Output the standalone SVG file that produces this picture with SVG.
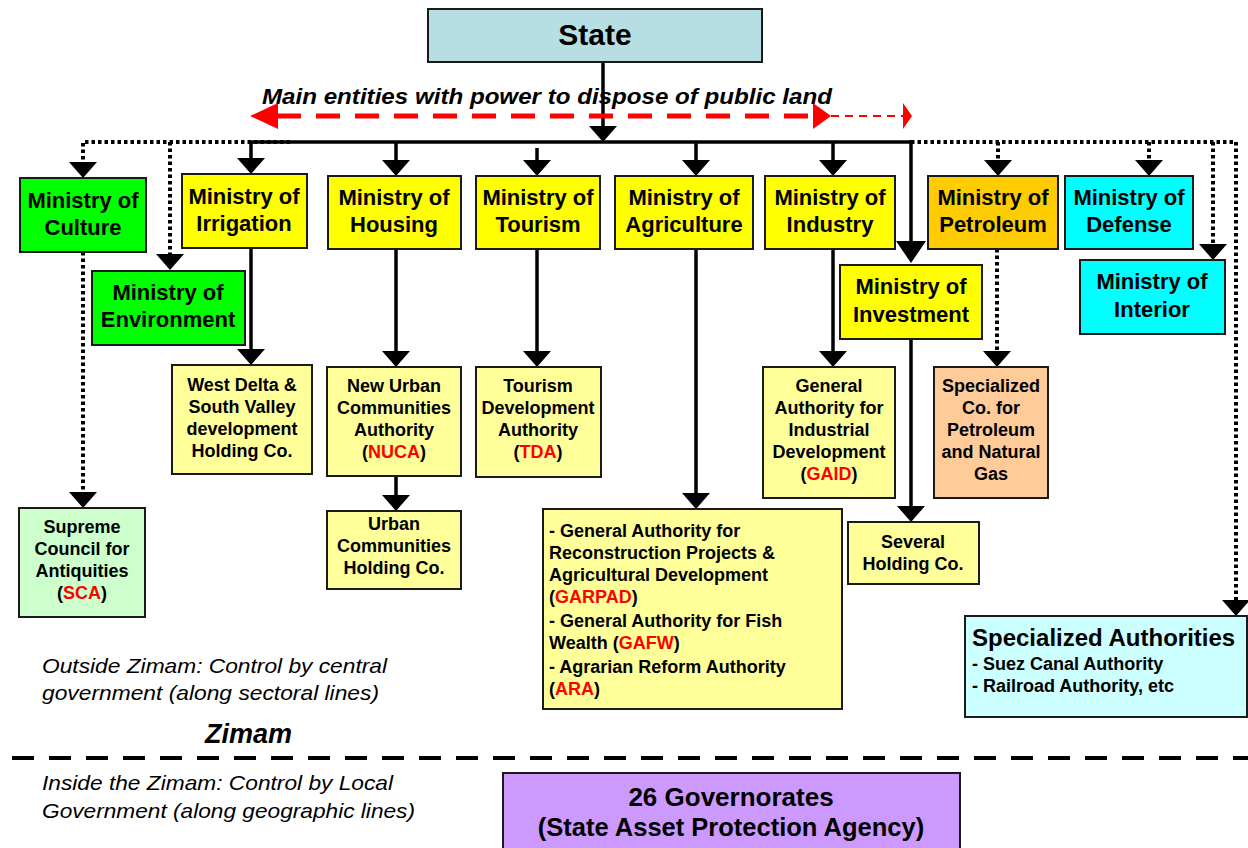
<svg xmlns="http://www.w3.org/2000/svg" width="1248" height="848" viewBox="0 0 1248 848">
<style>
text{font-family:"Liberation Sans",Arial,sans-serif;fill:#000}
.box{stroke:#1a1a1a;stroke-width:2}
.min{font-size:22px;font-weight:bold;text-anchor:middle}
.sub{font-size:18px;font-weight:bold;text-anchor:middle}
.lft{font-size:18px;font-weight:bold}
.red{fill:#ff0000}
.it{font-size:21px;font-style:italic}
.solid{fill:none;stroke:#000;stroke-width:3.5}
.dot{fill:none;stroke:#000;stroke-width:4;stroke-dasharray:3.5 3}
.yel{fill:#ffff00}.pyel{fill:#ffff99}.grn{fill:#00ff00}.lgrn{fill:#ccffcc}
.cyn{fill:#00ffff}.lcyn{fill:#ccffff}.org{fill:#ffcc00}.peach{fill:#ffcc99}
</style>
<defs>
<marker id="ah" markerUnits="userSpaceOnUse" markerWidth="16" markerHeight="28" viewBox="0 0 16 28" refX="10" refY="14" orient="auto"><path d="M0,0 L16,14 L0,28 Z" fill="#000"/></marker>
<marker id="ahb" markerUnits="userSpaceOnUse" markerWidth="22" markerHeight="30" viewBox="0 0 22 30" refX="14" refY="15" orient="auto"><path d="M0,0 L22,15 L0,30 Z" fill="#000"/></marker>
</defs>

<g id="connectors">
<path class="solid" d="M603,62 V136" marker-end="url(#ah)"/>
<path class="solid" d="M250,142 H911"/>
<path class="dot" d="M290,142 H83 V172" marker-end="url(#ah)"/>
<path class="dot" d="M170,142 V264" marker-end="url(#ah)"/>
<path class="dot" d="M911,142 H1236 V610" marker-end="url(#ah)"/>
<path class="dot" d="M998,142 V170" marker-end="url(#ah)"/>
<path class="dot" d="M1149,142 V170" marker-end="url(#ah)"/>
<path class="dot" d="M1213,142 V254" marker-end="url(#ah)"/>
<path class="dot" d="M83,252 V502" marker-end="url(#ah)"/>
<path class="dot" d="M997,249 V361" marker-end="url(#ah)"/>
<path class="solid" d="M251,142 V168" marker-end="url(#ah)"/>
<path class="solid" d="M396,142 V170" marker-end="url(#ah)"/>
<path class="solid" d="M537,148 V170" marker-end="url(#ah)"/>
<path class="solid" d="M696,142 V170" marker-end="url(#ah)"/>
<path class="solid" d="M833,142 V170" marker-end="url(#ah)"/>
<path class="solid" d="M911,140 V255" stroke-width="4.5" marker-end="url(#ahb)"/>
<path class="solid" d="M251,248 V359" marker-end="url(#ah)"/>
<path class="solid" d="M396,249 V361" marker-end="url(#ah)"/>
<path class="solid" d="M396,476 V505" marker-end="url(#ah)"/>
<path class="solid" d="M537,249 V361" marker-end="url(#ah)"/>
<path class="solid" d="M696,249 V503" marker-end="url(#ah)"/>
<path class="solid" d="M833,249 V361" marker-end="url(#ah)"/>
<path class="solid" d="M911,339 V516" marker-end="url(#ah)"/>
</g>

<g id="red-arrow">
<path d="M277,116 H813" fill="none" stroke="#ff0000" stroke-width="5" stroke-dasharray="24 15"/>
<polygon points="250,116 278,103 278,129" fill="#ff0000"/>
<polygon points="831,116 813,103 813,129" fill="#ff0000"/>
<path d="M831,116 H903" fill="none" stroke="#ff0000" stroke-width="2" stroke-dasharray="8 6"/>
<polygon points="912,116 903,103 903,129" fill="#ff0000"/>
<text x="262" y="104" font-size="22" font-weight="bold" font-style="italic" textLength="570" lengthAdjust="spacingAndGlyphs">Main entities with power to dispose of public land</text>
</g>

<g id="state">
<rect class="box" x="428" y="9" width="334" height="53" fill="#b7dfe3"/>
<text x="595" y="45" font-size="30" font-weight="bold" text-anchor="middle">State</text>
</g>

<g id="culture"><rect class="box grn" x="20" y="178" width="126" height="74"/>
<text class="min" x="83" y="208">Ministry of</text><text class="min" x="83" y="235">Culture</text></g>
<g id="environment"><rect class="box grn" x="92" y="271" width="153" height="74"/>
<text class="min" x="168" y="300">Ministry of</text><text class="min" x="168" y="327">Environment</text></g>
<g id="irrigation"><rect class="box yel" x="182" y="174" width="125" height="74"/>
<text class="min" x="244" y="204">Ministry of</text><text class="min" x="244" y="231">Irrigation</text></g>
<g id="housing"><rect class="box yel" x="328" y="176" width="133" height="73"/>
<text class="min" x="394" y="205">Ministry of</text><text class="min" x="394" y="232">Housing</text></g>
<g id="tourism"><rect class="box yel" x="476" y="176" width="124" height="73"/>
<text class="min" x="538" y="205">Ministry of</text><text class="min" x="538" y="232">Tourism</text></g>
<g id="agriculture"><rect class="box yel" x="615" y="176" width="138" height="73"/>
<text class="min" x="684" y="205">Ministry of</text><text class="min" x="684" y="232">Agriculture</text></g>
<g id="industry"><rect class="box yel" x="765" y="176" width="130" height="73"/>
<text class="min" x="830" y="205">Ministry of</text><text class="min" x="830" y="232">Industry</text></g>
<g id="petroleum"><rect class="box org" x="928" y="176" width="130" height="73"/>
<text class="min" x="993" y="205">Ministry of</text><text class="min" x="993" y="232">Petroleum</text></g>
<g id="defense"><rect class="box cyn" x="1065" y="176" width="128" height="73"/>
<text class="min" x="1129" y="205">Ministry of</text><text class="min" x="1129" y="232">Defense</text></g>
<g id="investment"><rect class="box yel" x="840" y="265" width="142" height="74"/>
<text class="min" x="911" y="294">Ministry of</text><text class="min" x="911" y="322">Investment</text></g>
<g id="interior"><rect class="box cyn" x="1080" y="260" width="145" height="74"/>
<text class="min" x="1152" y="289">Ministry of</text><text class="min" x="1152" y="317">Interior</text></g>

<g id="westdelta"><rect class="box pyel" x="172" y="365" width="140" height="109"/>
<text class="sub" x="242" y="391">West Delta &amp;</text><text class="sub" x="242" y="413">South Valley</text>
<text class="sub" x="242" y="435">development</text><text class="sub" x="242" y="457">Holding Co.</text></g>
<g id="nuca"><rect class="box pyel" x="327" y="367" width="134" height="109"/>
<text class="sub" x="394" y="392">New Urban</text><text class="sub" x="394" y="414">Communities</text>
<text class="sub" x="394" y="436">Authority</text><text class="sub" x="394" y="458">(<tspan class="red">NUCA</tspan>)</text></g>
<g id="tda"><rect class="box pyel" x="476" y="367" width="125" height="110"/>
<text class="sub" x="538" y="392">Tourism</text><text class="sub" x="538" y="414">Development</text>
<text class="sub" x="538" y="436">Authority</text><text class="sub" x="538" y="458">(<tspan class="red">TDA</tspan>)</text></g>
<g id="gaid"><rect class="box pyel" x="763" y="367" width="132" height="131"/>
<text class="sub" x="829" y="392">General</text><text class="sub" x="829" y="414">Authority for</text>
<text class="sub" x="829" y="436">Industrial</text><text class="sub" x="829" y="458">Development</text>
<text class="sub" x="829" y="480">(<tspan class="red">GAID</tspan>)</text></g>
<g id="petroco"><rect class="box peach" x="934" y="367" width="114" height="131"/>
<text class="sub" x="991" y="392">Specialized</text><text class="sub" x="991" y="414">Co. for</text>
<text class="sub" x="991" y="436">Petroleum</text><text class="sub" x="991" y="458">and Natural</text>
<text class="sub" x="991" y="480">Gas</text></g>
<g id="sca"><rect class="box lgrn" x="19" y="508" width="126" height="109"/>
<text class="sub" x="82" y="533">Supreme</text><text class="sub" x="82" y="555">Council for</text>
<text class="sub" x="82" y="577">Antiquities</text><text class="sub" x="82" y="599">(<tspan class="red">SCA</tspan>)</text></g>
<g id="urban"><rect class="box pyel" x="327" y="511" width="134" height="78"/>
<text class="sub" x="394" y="530">Urban</text><text class="sub" x="394" y="552">Communities</text>
<text class="sub" x="394" y="574">Holding Co.</text></g>
<g id="agrisub"><rect class="box pyel" x="543" y="509" width="299" height="200"/>
<text class="lft" x="549" y="537">- General Authority for</text>
<text class="lft" x="549" y="559">Reconstruction Projects &amp;</text>
<text class="lft" x="549" y="581">Agricultural Development</text>
<text class="lft" x="549" y="603">(<tspan class="red">GARPAD</tspan>)</text>
<text class="lft" x="549" y="627">- General Authority for Fish</text>
<text class="lft" x="549" y="649">Wealth (<tspan class="red">GAFW</tspan>)</text>
<text class="lft" x="549" y="673">- Agrarian Reform Authority</text>
<text class="lft" x="549" y="695">(<tspan class="red">ARA</tspan>)</text></g>
<g id="several"><rect class="box pyel" x="848" y="522" width="131" height="62"/>
<text class="sub" x="913" y="548">Several</text><text class="sub" x="913" y="570">Holding Co.</text></g>
<g id="specauth"><rect class="box lcyn" x="965" y="616" width="282" height="101"/>
<text x="972" y="646" font-size="24" font-weight="bold">Specialized Authorities</text>
<text class="lft" x="972" y="670">- Suez Canal Authority</text>
<text class="lft" x="972" y="692">- Railroad Authority, etc</text></g>

<g id="zimam">
<text class="it" x="42" y="673" textLength="345" lengthAdjust="spacingAndGlyphs">Outside Zimam: Control by central</text>
<text class="it" x="42" y="700" textLength="337" lengthAdjust="spacingAndGlyphs">government (along sectoral lines)</text>
<text x="205" y="743" font-size="27" font-weight="bold" font-style="italic">Zimam</text>
<path d="M12,758 H1248" fill="none" stroke="#000" stroke-width="4" stroke-dasharray="22 15"/>
<text class="it" x="42" y="790" textLength="351" lengthAdjust="spacingAndGlyphs">Inside the Zimam: Control by Local</text>
<text class="it" x="42" y="818" textLength="373" lengthAdjust="spacingAndGlyphs">Government (along geographic lines)</text>
</g>

<g id="governorates"><rect class="box" x="503" y="773" width="457" height="90" fill="#cc99ff"/>
<text x="731" y="806" font-size="26" font-weight="bold" text-anchor="middle">26 Governorates</text>
<text x="731" y="836" font-size="25.5" font-weight="bold" text-anchor="middle">(State Asset Protection Agency)</text></g>
</svg>
